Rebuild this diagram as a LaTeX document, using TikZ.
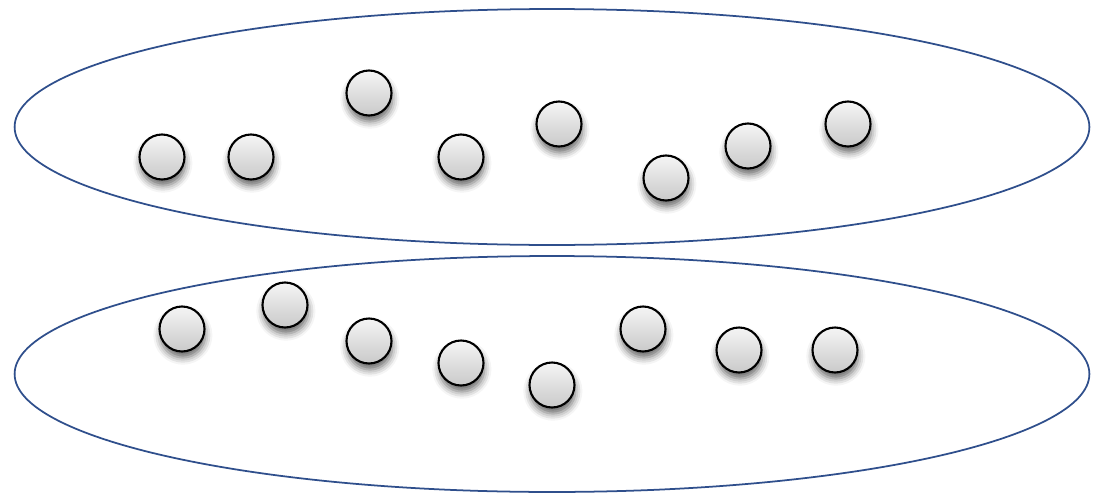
\documentclass[tikz,border=0pt]{standalone}
\usepackage{tikz}
\usetikzlibrary{positioning,shapes.geometric,shadows.blur}
\definecolor{ringblue}{RGB}{47,79,140}

\begin{document}
\begin{tikzpicture}[x=0.02cm, y=-0.02cm]
\tikzstyle{group}=[draw=ringblue, line width=1pt, ellipse, minimum width=21.5cm, minimum height=4.72cm, inner sep=0pt]
\tikzstyle{ball}=[draw=black, line width=1.2pt, circle, minimum size=0.9cm, inner sep=0pt, top color=gray!8, bottom color=gray!42, blur shadow={shadow xshift=0.5pt, shadow yshift=-3.5pt, shadow blur radius=4pt, shadow opacity=60}]
\useasboundingbox (0,0) rectangle (1103,494);

\node[group] (upper) at (552,127) {};
\node[group] (lower) at (552,374) {};

% upper set
\node[ball] (a1) at (162,157) {};
\node[ball] (a2) at (251,157) {};
\node[ball] (a3) at (369,93) {};
\node[ball] (a4) at (461,157) {};
\node[ball] (a5) at (559,124) {};
\node[ball] (a6) at (666,178) {};
\node[ball] (a7) at (748,146) {};
\node[ball] (a8) at (848,124) {};

% lower set
\node[ball] (b1) at (182,329) {};
\node[ball] (b2) at (285,305) {};
\node[ball] (b3) at (369,341) {};
\node[ball] (b4) at (461,363) {};
\node[ball] (b5) at (552,385) {};
\node[ball] (b6) at (643,329) {};
\node[ball] (b7) at (739,350) {};
\node[ball] (b8) at (835,350) {};

\end{tikzpicture}
\end{document}
